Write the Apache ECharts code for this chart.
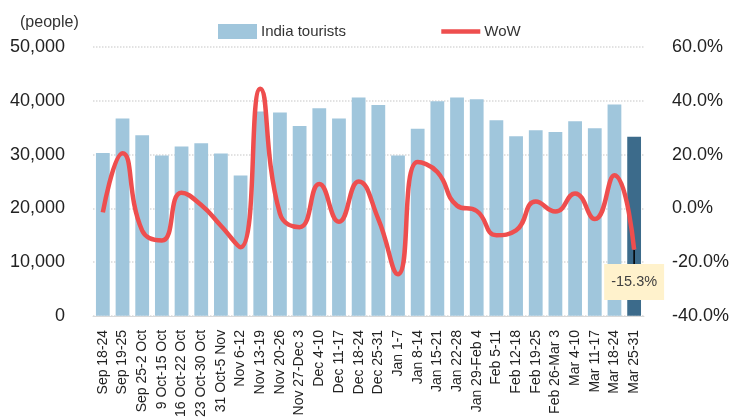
<!DOCTYPE html>
<html><head><meta charset="utf-8">
<script src="https://cdn.jsdelivr.net/npm/echarts@6/dist/echarts.min.js"></script>
<style>html,body{margin:0;padding:0;background:#fff}#c{width:732px;height:420px}</style>
</head><body><div id="c"></div>
<script>
const categories = ["Sep 18-24","Sep 19-25","Sep 25-2 Oct","9 Oct-15 Oct","16 Oct-22 Oct","23 Oct-30 Oct","31 Oct-5 Nov","Nov 6-12","Nov 13-19","Nov 20-26","Nov 27-Dec 3","Dec 4-10","Dec 11-17","Dec 18-24","Dec 25-31","Jan 1-7","Jan 8-14","Jan 15-21","Jan 22-28","Jan 29-Feb 4","Feb 5-11","Feb 12-18","Feb 19-25","Feb 26-Mar 3","Mar 4-10","Mar 11-17","Mar 18-24","Mar 25-31"];
const tourists = [30300,36700,33600,29800,31500,32100,30200,26100,38000,37800,35300,38600,36700,40600,39200,29800,34800,39900,40600,40300,36400,33400,34500,34200,36200,34900,39300,33300];
const wow = [-1.5,20.5,-8.3,-12.0,5.8,1.2,-6.5,-14.5,44.5,-2.0,-7.0,9.0,-5.0,10.0,-4.0,-24.5,17.2,13.5,1.0,-1.0,-10.0,-8.2,2.5,-1.2,5.5,-4.0,12.3,-15.3];
const seriesNames = ["India tourists","WoW"];
const leftTicks = {min:0,max:50000,interval:10000};
const rightTicks = {min:-40,max:60,interval:20};

const font = "'Liberation Sans', Arial, sans-serif";
const barData = tourists.map((v,i)=> i===tourists.length-1 ? {value:v,itemStyle:{color:'#3C6B8B'}} : v);
const lineData = wow.map((v,i)=> i===wow.length-1 ? {
  value:v,
  symbol:'circle',symbolSize:1,
  label:{show:true,position:'bottom',distance:14,formatter:(p)=>p.value.toFixed(1)+'%',
    backgroundColor:'#FFF2CC',padding:[11,7,10,7],color:'#404040',fontSize:14.5,fontFamily:font},
  labelLine:{show:true,lineStyle:{color:'#000',width:1.5}}
} : v);

const chart = echarts.init(document.getElementById('c'),null,{renderer:'canvas'});
chart.setOption({
  animation:false,
  textStyle:{fontFamily:font},
  grid:{left:93,right:84,top:47,bottom:102,containLabel:false},
  legend:{top:24,left:218,itemGap:93,itemWidth:39,itemHeight:15,padding:0,
    textStyle:{fontSize:15,color:'#333',fontFamily:font,padding:[0,0,0,-1]},
    data:[{name:seriesNames[0],icon:'rect'},
          {name:seriesNames[1],itemStyle:{opacity:0,color:'rgba(0,0,0,0)',borderWidth:0},lineStyle:{width:4.5,color:'#EE4E4E'}}]},
  graphic:[{type:'text',left:20,top:15,style:{text:'(people)',fontSize:16,fill:'#333',fontFamily:font}}],
  xAxis:{type:'category',data:categories,
    axisLine:{lineStyle:{color:'#D9D9D9'}},axisTick:{show:false},
    axisLabel:{rotate:90,interval:0,fontSize:14,color:'#222',margin:14,fontFamily:font}},
  yAxis:[
    {type:'value',min:leftTicks.min,max:leftTicks.max,interval:leftTicks.interval,
     axisLabel:{fontSize:18,color:'#222',margin:28,fontFamily:font,formatter:(v)=>v.toLocaleString('en-US')},
     splitLine:{lineStyle:{color:'#D9D9D9',type:'dotted',width:1.5}},axisLine:{show:false},axisTick:{show:false}},
    {type:'value',min:rightTicks.min,max:rightTicks.max,interval:rightTicks.interval,
     axisLabel:{fontSize:18,color:'#222',margin:28,fontFamily:font,formatter:(v)=>v.toFixed(1)+'%'},
     splitLine:{show:false},axisLine:{show:false},axisTick:{show:false}}
  ],
  series:[
    {name:seriesNames[0],type:'bar',data:barData,barWidth:'70%',itemStyle:{color:'#A0C6DC'},yAxisIndex:0},
    {name:seriesNames[1],type:'line',data:lineData,yAxisIndex:1,smooth:0.5,symbol:'none',
     lineStyle:{color:'#EE4E4E',width:4.5},itemStyle:{color:'#EE4E4E'},z:5}
  ]
});
</script></body></html>
